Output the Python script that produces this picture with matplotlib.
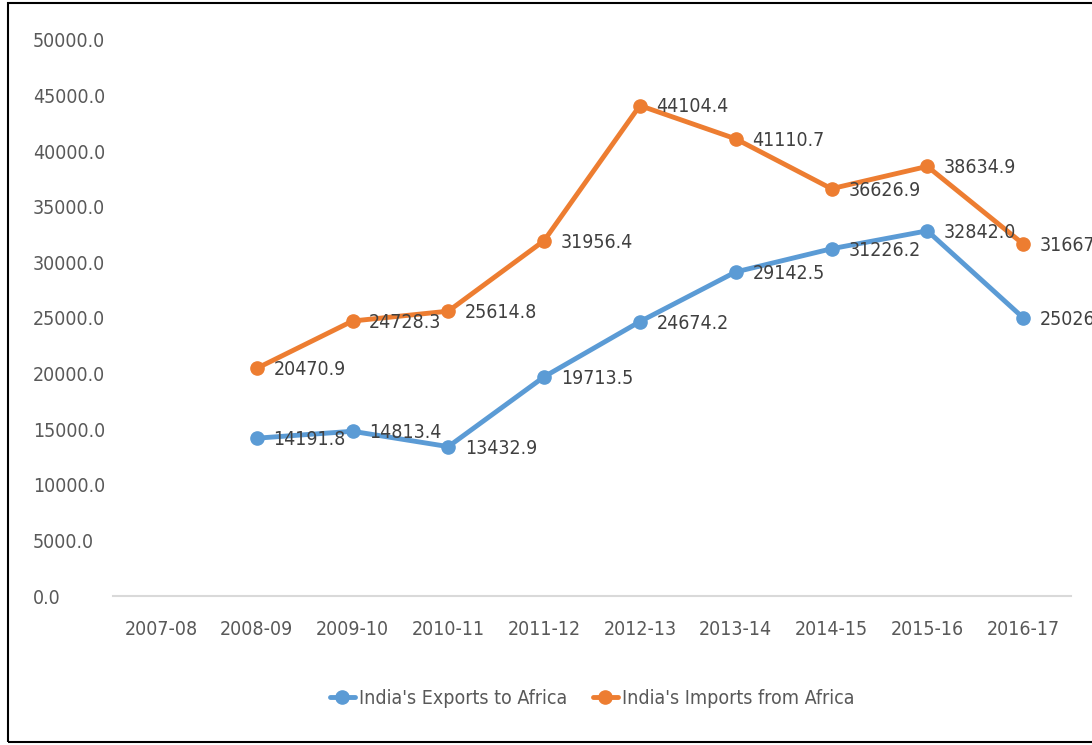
import matplotlib
matplotlib.use("Agg")
import matplotlib.pyplot as plt
from matplotlib.patches import Rectangle

# Data
years = ["2007-08", "2008-09", "2009-10", "2010-11", "2011-12", "2012-13",
         "2013-14", "2014-15", "2015-16", "2016-17"]
exports = [None, 14191.8, 14813.4, 13432.9, 19713.5, 24674.2,
           29142.5, 31226.2, 32842.0, 25026.0]
imports = [None, 20470.9, 24728.3, 25614.8, 31956.4, 44104.4,
           41110.7, 36626.9, 38634.9, 31667.0]
series_names = ["India's Exports to Africa", "India's Imports from Africa"]
y_ticks = [0, 5000, 10000, 15000, 20000, 25000, 30000, 35000, 40000, 45000, 50000]

BLUE = "#5B9BD5"
ORANGE = "#ED7D31"
TEXT = "#595959"

plt.rcParams['font.family'] = ['Liberation Sans Narrow', 'DejaVu Sans']
plt.rcParams['font.stretch'] = 'condensed'

fig = plt.figure(figsize=(10.92, 7.45), dpi=100)
ax = fig.add_axes([113 / 1092, 149 / 745, 958 / 1092, 556 / 745])

x = list(range(len(years)))
for vals, color, name in [(exports, BLUE, series_names[0]), (imports, ORANGE, series_names[1])]:
    xs = [i for i, v in zip(x, vals) if v is not None]
    ys = [v for v in vals if v is not None]
    ax.plot(xs, ys, color=color, lw=3.5, marker="o", markersize=9.5,
            solid_capstyle="round", label=name, clip_on=False)
    # data labels to the right of each point (last ones run off the edge, as in the source)
    for xi, yi in zip(xs, ys):
        ax.annotate(f"{yi:.1f}", (xi, yi), xytext=(12, -1), textcoords="offset points",
                    ha="left", va="center", fontsize=14, color="#404040",
                    annotation_clip=False)

ax.set_xlim(-0.5, len(years) - 0.5)
ax.set_ylim(0, 50000)
ax.set_xticks(x)
ax.set_xticklabels(years)
ax.set_yticks(y_ticks)
ax.set_yticklabels([f"{v:.1f}" for v in y_ticks])
for lbl in ax.get_yticklabels():
    lbl.set_horizontalalignment("left")

ax.tick_params(axis="y", length=0, pad=57.6, labelsize=14, labelcolor=TEXT)
ax.tick_params(axis="x", length=0, pad=17, labelsize=14, labelcolor=TEXT)

for side in ["top", "right", "left"]:
    ax.spines[side].set_visible(False)
ax.spines["bottom"].set_color("#D9D9D9")
ax.spines["bottom"].set_linewidth(1.5)

ax.legend(loc="upper center", bbox_to_anchor=(0.5, -0.135), ncol=2, frameon=False,
          fontsize=14, labelcolor=TEXT, handlelength=1.3, handletextpad=0.2,
          columnspacing=1.3)

# outer frame (right side cut off in the reference)
fig.patches.append(Rectangle((8 / 1092, 3 / 745), 1.2, 739 / 745,
                             transform=fig.transFigure, fill=False,
                             edgecolor="black", lw=1.5))

fig.savefig("out.png", dpi=100)
